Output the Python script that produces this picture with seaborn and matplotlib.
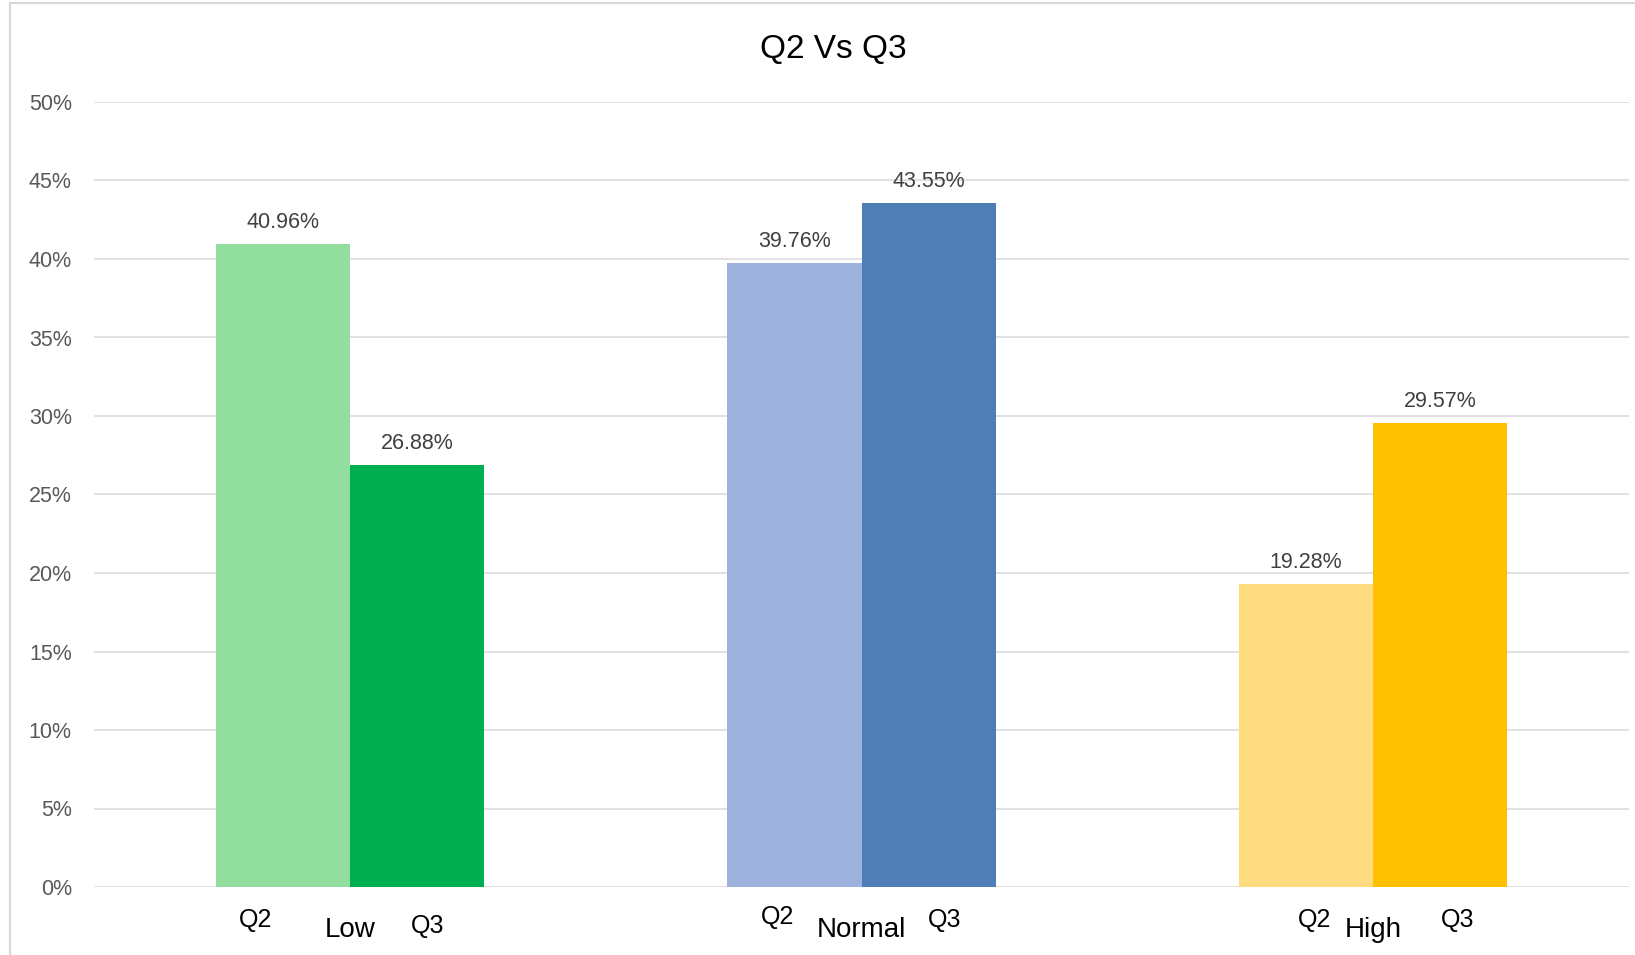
import numpy as np
import pandas as pd
import matplotlib
matplotlib.use('Agg')
import matplotlib.pyplot as plt
import seaborn as sns
from matplotlib.patches import Rectangle

categories = ['Low', 'Normal', 'High']
quarters = ['Q2', 'Q3']
q2_values = [0.4096, 0.3976, 0.1928]
q3_values = [0.2688, 0.4355, 0.2957]

q2_colors = ['#92DE9E', '#9DB3DE', '#FFDC80']
q3_colors = ['#00B050', '#4F7DB5', '#FFC000']

# where Excel put the little Q2 / Q3 labels under each group (category units, px baselines)
q2_label_dx = [-0.184, -0.164, -0.115]
q3_label_dx = [0.152, 0.162, 0.166]
q2_label_base = [40, 37, 40]
q3_label_base = [46, 40, 40]

df = pd.DataFrame({
    'category': categories * 2,
    'quarter': ['Q2'] * 3 + ['Q3'] * 3,
    'value': q2_values + q3_values,
})

sns.set_style('white')
plt.rcParams['font.family'] = ['Liberation Sans', 'DejaVu Sans']

fig = plt.figure(figsize=(16.35, 9.55), dpi=100)
# chart frame (light grey border like the Excel chart area)
fig.patches.append(Rectangle((10 / 1635, -0.05), 1.2, 1 - 3 / 955 + 0.05,
                             transform=fig.transFigure, fill=False,
                             edgecolor='#D9D9D9', linewidth=1.5))
ax = fig.add_axes([94 / 1635, 1 - 887 / 955, (1629 - 94) / 1635, (887 - 102) / 955])

sns.barplot(data=df, x='category', y='value', hue='quarter', order=categories,
            hue_order=quarters, width=0.524, linewidth=0, legend=False,
            errorbar=None, ax=ax, zorder=3)

for cont, cols in zip(ax.containers, [q2_colors, q3_colors]):
    for bar, c in zip(cont, cols):
        bar.set_facecolor(c)
    labels = ['{:.2f}%'.format(b.get_height() * 100) for b in cont]
    for bar, lab in zip(cont, labels):
        ax.annotate(lab, (bar.get_x() + bar.get_width() / 2, bar.get_height()),
                    xytext=(0, 16), textcoords='offset pixels', ha='center',
                    va='baseline', fontsize=15.5, color='#404040')

ax.set_ylim(0, 0.5)
ax.set_yticks(np.arange(0, 0.501, 0.05))
ax.set_yticklabels(['{:.0f}%'.format(v * 100) for v in np.arange(0, 0.501, 0.05)])
ax.tick_params(axis='y', length=0, pad=16, labelsize=15.5, labelcolor='#595959')
ax.tick_params(axis='x', length=0)
ax.set_xticklabels([])
ax.set_xlabel('')
ax.set_ylabel('')
ax.grid(axis='y', color='#D9D9D9', linewidth=1.1, zorder=0)
ax.set_axisbelow(True)
for s in ax.spines.values():
    s.set_visible(False)

for i, cat in enumerate(categories):
    ax.annotate(cat, (i, 0), xycoords=('data', 'axes fraction'), xytext=(0, -50),
                textcoords='offset pixels', ha='center', va='baseline',
                fontsize=20, color='black')
    ax.annotate('Q2', (i + q2_label_dx[i], 0), xycoords=('data', 'axes fraction'),
                xytext=(0, -q2_label_base[i]), textcoords='offset pixels',
                ha='center', va='baseline', fontsize=18, color='black')
    ax.annotate('Q3', (i + q3_label_dx[i], 0), xycoords=('data', 'axes fraction'),
                xytext=(0, -q3_label_base[i]), textcoords='offset pixels',
                ha='center', va='baseline', fontsize=18, color='black')

fig.text(833 / 1635, 1 - 49 / 955, 'Q2 Vs Q3', ha='center', va='center',
         fontsize=24, color='black')

fig.savefig('out.png', dpi=100)
